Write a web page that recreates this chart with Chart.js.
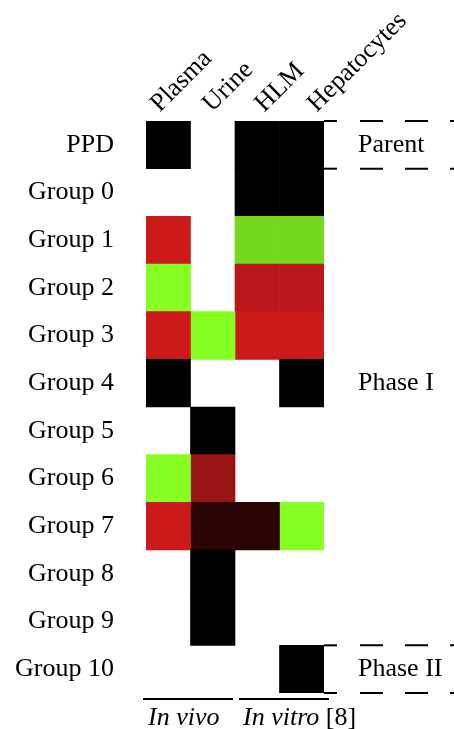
<!DOCTYPE html>
<html>
<head>
<meta charset="utf-8">
<script src="https://cdn.jsdelivr.net/npm/chart.js@4.4.1/dist/chart.umd.min.js"></script>
<style>
  html, body { margin: 0; padding: 0; background: #fff; }
  #wrap { width: 454px; height: 729px; position: relative; }
</style>
</head>
<body>
<div id="wrap"><canvas id="metaboliteChart"></canvas></div>
<script>
// Columns (samples) and rows (metabolite groups)
var columns = ['Plasma', 'Urine', 'HLM', 'Hepatocytes'];
var groups = ['PPD', 'Group 0', 'Group 1', 'Group 2', 'Group 3', 'Group 4', 'Group 5',
  'Group 6', 'Group 7', 'Group 8', 'Group 9', 'Group 10'];

// Signal per group: > 0 red, < 0 green, 0 black, null = not detected
var plasma = [0, null, 0.8, -1, 0.8, 0, null, -1, 0.8, null, null, null];
var urine = [null, null, null, null, -1, null, 0, 0.6, 0.16, 0, 0, null];
var hlm = [0, 0, -0.85, 0.73, 0.8, null, null, null, 0.16, null, null, null];
var hepatocytes = [0, 0, -0.85, 0.73, 0.8, 0, null, null, -1, null, null, 0];

// Right side brackets and bottom captions
var phases = ['Parent', 'Phase I', 'Phase II'];
var phaseRows = ['PPD', 'Group 4', 'Group 10'];
var bracketRows = ['PPD', 'Group 10'];
var sources = ['In vivo', 'In vitro'];
var sourceColumns = [['Plasma', 'Urine'], ['HLM', 'Hepatocytes']];

var FONT = '"Liberation Serif", "Times New Roman", serif';

function cellColor(v) {
  if (v === null) return 'rgba(0,0,0,0)';
  var a = Math.abs(v);
  if (v > 0) return 'rgb(' + Math.round(255 * a) + ',' + Math.round(33 * a) + ',' + Math.round(33 * a) + ')';
  if (v < 0) return 'rgb(' + Math.round(136 * a) + ',' + Math.round(255 * a) + ',' + Math.round(34 * a) + ')';
  return '#000';
}

function columnDataset(name, values) {
  var c = columns.indexOf(name);
  return {
    label: name,
    data: values.map(function (v) { return v === null ? null : [c, c + 1]; }),
    backgroundColor: values.map(cellColor),
    borderWidth: 0,
    barPercentage: 1,
    categoryPercentage: 1,
    grouped: false
  };
}

var annotations = {
  id: 'annotations',
  afterDraw: function (chart) {
    var ctx = chart.ctx;
    var area = chart.chartArea;
    var y = chart.scales.y;
    var x = chart.scales.x;
    var rowH = y.getPixelForValue(1) - y.getPixelForValue(0);
    ctx.save();
    ctx.strokeStyle = '#000';
    ctx.fillStyle = '#000';
    ctx.lineWidth = 2;

    // bracket lines around Parent and Phase II rows
    bracketRows.forEach(function (r) {
      var cy = y.getPixelForValue(groups.indexOf(r));
      [cy - rowH / 2, cy + rowH / 2].forEach(function (ly) {
        ctx.setLineDash([]);
        ctx.beginPath();
        ctx.moveTo(area.right, ly);
        ctx.lineTo(area.right + 13, ly);
        ctx.stroke();
        ctx.setLineDash([23, 22]);
        ctx.beginPath();
        ctx.moveTo(area.right + 36, ly);
        ctx.lineTo(chart.width, ly);
        ctx.stroke();
      });
    });
    ctx.setLineDash([]);

    ctx.font = '26px ' + FONT;
    ctx.textAlign = 'left';
    ctx.textBaseline = 'middle';
    phases.forEach(function (p, i) {
      ctx.fillText(p, area.right + 34, y.getPixelForValue(groups.indexOf(phaseRows[i])));
    });

    // bottom captions
    var lineY = area.bottom + 6;
    var textY = area.bottom + 32;
    ctx.textBaseline = 'alphabetic';
    sources.forEach(function (s, i) {
      var x0 = x.getPixelForValue(columns.indexOf(sourceColumns[i][0]));
      var x1 = x.getPixelForValue(columns.indexOf(sourceColumns[i][1]) + 1);
      var inset = i === 0 ? [-3, -2] : [4, 5];
      ctx.beginPath();
      ctx.moveTo(x0 + inset[0], lineY);
      ctx.lineTo(x1 + inset[1], lineY);
      ctx.stroke();
      var tx = x0 + (i === 0 ? 2 : 8);
      ctx.font = 'italic 26px ' + FONT;
      ctx.fillText(s, tx, textY);
      if (i === 1) {
        var w = ctx.measureText(s + ' ').width;
        ctx.font = '26px ' + FONT;
        ctx.fillText('[8]', tx + w, textY);
      }
    });
    ctx.restore();
  }
};

document.addEventListener('DOMContentLoaded', function () {
  var ctx = document.getElementById('metaboliteChart').getContext('2d');
  new Chart(ctx, {
    type: 'bar',
    data: {
      labels: groups,
      datasets: [
        columnDataset('Plasma', plasma),
        columnDataset('Urine', urine),
        columnDataset('HLM', hlm),
        columnDataset('Hepatocytes', hepatocytes)
      ]
    },
    options: {
      indexAxis: 'y',
      responsive: true,
      maintainAspectRatio: false,
      animation: false,
      layout: { padding: { left: 0, right: 130, top: 0, bottom: 36 } },
      plugins: { legend: { display: false }, tooltip: { enabled: false } },
      scales: {
        x: { type: 'linear', min: 0, max: columns.length, display: false },
        x2: {
          type: 'linear',
          position: 'top',
          min: -0.59,
          max: 2.81,
          grid: { display: false, drawTicks: false },
          border: { display: false },
          afterBuildTicks: function (scale) {
            scale.ticks = columns.map(function (c, i) { return { value: i }; });
          },
          afterFit: function (scale) { scale.height = 121; },
          ticks: {
            minRotation: 45,
            maxRotation: 45,
            padding: 2,
            autoSkip: false,
            color: '#000',
            font: { family: FONT, size: 26 },
            callback: function (v) { return columns[v]; }
          }
        },
        y: {
          grid: { display: false, drawTicks: false },
          border: { display: false },
          afterFit: function (scale) {
            scale.width = 146;
            scale.paddingTop = 0;
            scale.paddingBottom = 0;
          },
          ticks: {
            padding: 32,
            color: '#000',
            font: { family: FONT, size: 26 }
          }
        }
      }
    },
    plugins: [annotations]
  });
});
</script>
</body>
</html>
